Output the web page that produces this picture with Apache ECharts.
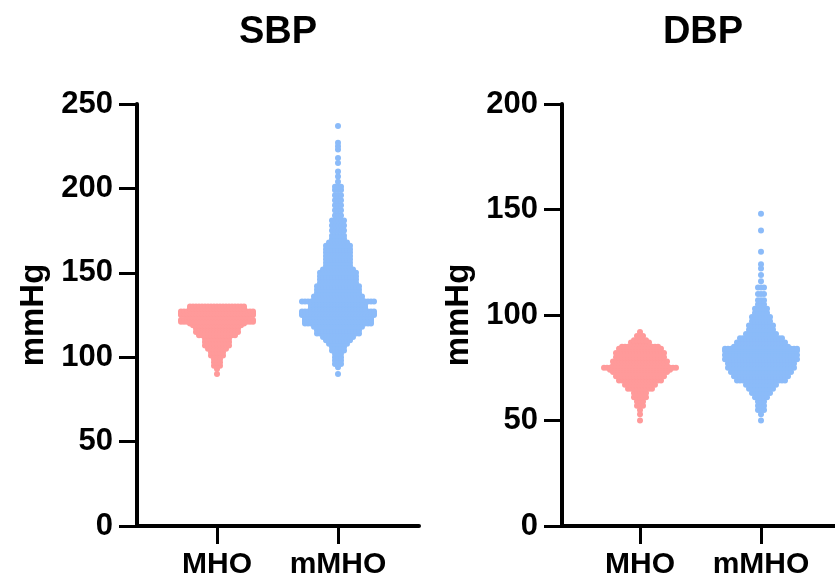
<!DOCTYPE html>
<html><head><meta charset="utf-8">
<style>html,body{margin:0;padding:0;background:#fff}#c{width:835px;height:580px}</style>
<script src="https://cdn.jsdelivr.net/npm/echarts@6/dist/echarts.min.js"></script>
</head><body><div id="c"></div>
<script>
const groups = ['MHO', 'mMHO'];
const yTicksNote = 'mmHg';
// Swarm rows: measured value (mmHg) and number of dots on each side of the centre line
const sbpMhoValues = [90,93,95,97,99,101,103,105,107,109,111,113,115,117,119,120,121,122,123,124,125,126,127,128,129,130];
const sbpMhoSide   = [0,0,1,1,1,2,2,3,4,4,4,6,7,7,8,9,12,12,9,10,12,12,12,9,9,9];
const sbpHighValues = [90,94,96,98,100,102,104,106,108,110,112,114,116,118,120,121,122,123,124,125,126,127,128,129,130,131,132,133,134,136,138,140,142,144,146,148,150,152,154,156,158,160,162,164,166,168,170,172,175,178,181,184,187,190,193,196,199,201,204,207,210,215,218,223,225,227,237];
const sbpHighSide   = [0,0,1,1,1,1,2,2,3,4,5,7,7,8,11,11,11,11,11,12,12,12,9,9,9,9,8,12,8,8,7,7,7,6,6,6,6,5,4,4,4,4,4,4,4,3,2,2,2,2,2,1,1,1,1,1,1,1,0,0,0,0,0,0,0,0,0];
const dbpMhoValues = [50,53,55,57,59,61,63,65,67,69,71,73,74,75,76,78,80,82,84,85,87,88,90,92];
const dbpMhoSide   = [0,0,0,1,1,2,2,4,5,7,8,9,10,12,9,9,8,8,7,6,3,2,1,0];
const dbpHighValues = [50,53,55,57,59,61,63,65,67,69,71,73,75,77,79,81,83,84,85,87,89,91,93,95,97,99,101,103,105,107,110,113,116,119,122,124,130,140,148];
const dbpHighSide   = [0,0,1,1,1,2,3,4,5,8,9,10,11,11,12,12,12,12,9,8,7,5,4,4,3,3,2,2,1,1,1,1,0,0,0,0,0,0,0];
const PINK = '#FF9A9A', BLUE = '#8BBBF9';
const DOT_STEP = 3 / 121;

function swarm(center, values, sides) {
  const pts = [];
  values.forEach((v, i) => {
    for (let k = -sides[i]; k <= sides[i]; k++) pts.push([center + k * DOT_STEP, v]);
  });
  return pts;
}
const FONT = '"Liberation Sans", Arial, sans-serif';
const txt = {color:'#000', fontFamily:FONT, fontWeight:'bold'};
function xAxis(i, min, max) {
  return {gridIndex:i, type:'value', min, max,
    axisLine:{show:true, onZero:false, lineStyle:{color:'#000', width:4}},
    axisTick:{show:true, length:18, customValues:[0,1], lineStyle:{color:'#000', width:3}},
    axisLabel:{show:true, customValues:[0,1], margin:24, formatter:v => groups[Math.round(v)], ...txt, fontSize:30, hideOverlap:false},
    splitLine:{show:false}};
}
function yAxis(i, max, gap) {
  return {gridIndex:i, type:'value', min:0, max, interval:50,
    name:yTicksNote, nameLocation:'middle', nameGap:gap, nameTextStyle:{...txt, fontSize:33},
    axisLine:{show:true, onZero:false, lineStyle:{color:'#000', width:4}},
    axisTick:{show:true, length:18, lineStyle:{color:'#000', width:3}},
    axisLabel:{margin:24, ...txt, fontSize:31},
    splitLine:{show:false}};
}
function scatter(i, data, color) {
  return {type:'scatter', xAxisIndex:i, yAxisIndex:i, data, symbol:'circle', symbolSize:6,
    itemStyle:{color, opacity:1}, silent:true, progressive:0, large:false, animation:false};
}
const chart = echarts.init(document.getElementById('c'), null, {renderer:'canvas'});
chart.setOption({
  animation:false, backgroundColor:'#fff',
  title:[
    {text:'SBP', left:273, top:9, textAlign:'center', textStyle:{...txt, fontSize:38}},
    {text:'DBP', left:698, top:9, textAlign:'center', textStyle:{...txt, fontSize:38}}
  ],
  grid:[
    {left:137, top:104, width:282, height:423},
    {left:562, top:104, width:273, height:423}
  ],
  xAxis:[xAxis(0, -80/121, 202/121), xAxis(1, -78/121, 195/121)],
  yAxis:[yAxis(0, 250, 87), yAxis(1, 200, 87)],
  series:[
    scatter(0, swarm(0, sbpMhoValues, sbpMhoSide), PINK),
    scatter(0, swarm(1, sbpHighValues, sbpHighSide), BLUE),
    scatter(1, swarm(0, dbpMhoValues, dbpMhoSide), PINK),
    scatter(1, swarm(1, dbpHighValues, dbpHighSide), BLUE)
  ]
});
</script></body></html>
